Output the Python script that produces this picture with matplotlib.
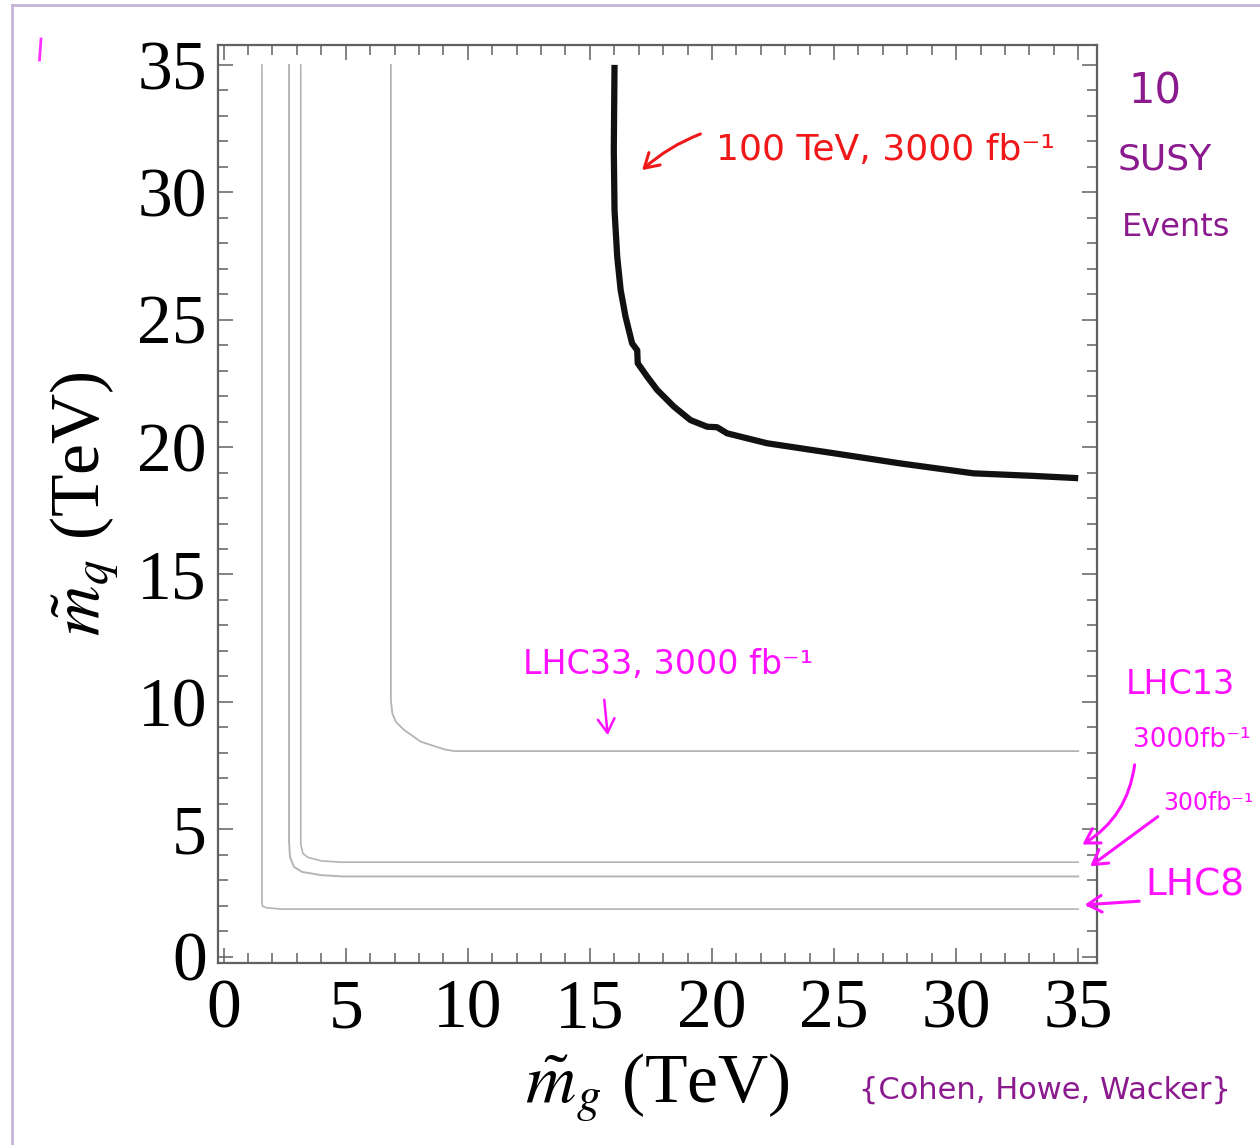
import matplotlib
matplotlib.use("Agg")
import matplotlib.pyplot as plt
from matplotlib.ticker import MultipleLocator
from matplotlib.lines import Line2D
from matplotlib.patches import FancyArrowPatch

# ---------------- data (TeV) ----------------
lhc8_x = [1.57, 1.57, 1.60, 1.75, 2.35, 35.0]
lhc8_y = [35.0, 2.10, 1.98, 1.92, 1.87, 1.87]

lhc13_300_x = [2.68, 2.68, 2.72, 2.88, 3.20, 4.00, 4.90, 35.0]
lhc13_300_y = [35.0, 4.50, 3.90, 3.53, 3.33, 3.20, 3.15, 3.15]

lhc13_3000_x = [3.16, 3.16, 3.25, 3.45, 4.00, 4.80, 35.0]
lhc13_3000_y = [35.0, 4.40, 4.05, 3.90, 3.76, 3.71, 3.71]

lhc33_x = [6.85, 6.85, 6.91, 7.05, 7.39, 8.07, 9.03, 9.44, 35.0]
lhc33_y = [35.0, 10.07, 9.55, 9.22, 8.90, 8.44, 8.14, 8.07, 8.07]

vlhc_x = [16.01, 15.98, 16.01, 16.12, 16.26, 16.46, 16.73, 16.94, 16.96, 17.35,
          17.76, 18.44, 19.12, 19.80, 20.21, 20.62, 22.26, 24.98, 27.71, 30.71,
          33.16, 35.0]
vlhc_y = [35.0, 31.66, 29.30, 27.47, 26.17, 25.12, 24.07, 23.80, 23.29, 22.76,
          22.24, 21.59, 21.06, 20.80, 20.78, 20.54, 20.15, 19.76, 19.36, 18.97,
          18.87, 18.78]

major_ticks = [0, 5, 10, 15, 20, 25, 30, 35]
tick_labels = ["0", "5", "10", "15", "20", "25", "30", "35"]

# ---------------- figure ----------------
W, H = 1260, 1145
plt.rcParams['mathtext.fontset'] = 'stix'
fig = plt.figure(figsize=(W / 100, H / 100), dpi=100)
fig.patch.set_facecolor('white')

ax = fig.add_axes([218 / W, 1 - 962.7 / H, (1097 - 218) / W, (962.7 - 45) / H])
ax.set_xlim(-0.23, 35.77)
ax.set_ylim(-0.235, 35.78)

gray = '#b4b4b4'
ax.plot(lhc8_x, lhc8_y, color=gray, lw=1.2)
ax.plot(lhc13_300_x, lhc13_300_y, color=gray, lw=1.4)
ax.plot(lhc13_3000_x, lhc13_3000_y, color=gray, lw=1.2)
ax.plot(lhc33_x, lhc33_y, color=gray, lw=1.3)
ax.plot(vlhc_x, vlhc_y, color='#111111', lw=4.5, solid_capstyle='butt',
        solid_joinstyle='round')

ax.set_xticks(major_ticks)
ax.set_yticks(major_ticks)
ax.set_xticklabels(tick_labels)
ax.set_yticklabels(tick_labels)
ax.xaxis.set_minor_locator(MultipleLocator(1))
ax.yaxis.set_minor_locator(MultipleLocator(1))
frame_c = '#606060'
for s in ax.spines.values():
    s.set_color(frame_c)
    s.set_linewidth(1.6)
ax.tick_params(which='both', direction='in', top=True, right=True,
               color=frame_c, width=1.1)
ax.tick_params(which='major', length=11)
ax.tick_params(which='minor', length=7)
ax.tick_params(axis='x', which='major', pad=12)
ax.tick_params(axis='y', which='major', pad=8)
for lab in ax.get_xticklabels() + ax.get_yticklabels():
    lab.set_fontfamily('Liberation Serif')
    lab.set_fontsize(50)

ax.set_xlabel(r'$\tilde{m}_g$ (TeV)', fontfamily='Liberation Serif', fontsize=50, labelpad=6)
ax.set_ylabel(r'$\tilde{m}_q$ (TeV)', fontfamily='Liberation Serif', fontsize=50, labelpad=12)

# ---------------- page border & marks ----------------
border = '#c6b4d8'
fig.add_artist(Line2D([12 / W, 12 / W], [0, 1 - 5 / H], transform=fig.transFigure,
                      color=border, lw=2))
fig.add_artist(Line2D([12 / W, 1], [1 - 5 / H, 1 - 5 / H], transform=fig.transFigure,
                      color=border, lw=2))
fig.add_artist(Line2D([41 / W, 39.5 / W], [1 - 39 / H, 1 - 60 / H], transform=fig.transFigure,
                      color='#ff30ff', lw=2))

# ---------------- handwritten annotations ----------------
red = '#f01818'
mag = '#ff10ff'
pur = '#8a1a8e'
hand = ['DejaVu Sans']


def ftext(x, y, s, color, size, **kw):
    fig.text(x / W, 1 - y / H, s, color=color, fontsize=size, family=hand,
             ha='center', va='center', **kw)


def farrow(x0, y0, x1, y1, color, rad=0.0, lw=2.2):
    fig.add_artist(FancyArrowPatch((x0 / W, 1 - y0 / H), (x1 / W, 1 - y1 / H),
                                   transform=fig.transFigure, color=color, lw=lw,
                                   arrowstyle='->,head_length=10,head_width=6',
                                   connectionstyle=f'arc3,rad={rad}'))


ftext(885, 150, '100 TeV, 3000 fb\u207b\u00b9', red, 26)
farrow(703, 133, 640, 172, red, rad=0.1)

ftext(668, 665, 'LHC33, 3000 fb\u207b\u00b9', mag, 24)
farrow(604, 697, 608, 738, mag, rad=0.0, lw=1.8)

ftext(1155, 92, '10', pur, 30)
ftext(1165, 160, 'SUSY', pur, 26)
ftext(1176, 228, 'Events', pur, 23)

ftext(1180, 685, 'LHC13', mag, 24)
ftext(1192, 740, '3000fb\u207b\u00b9', mag, 19)
ftext(1208, 803, '300fb\u207b\u00b9', mag, 17)
ftext(1195, 885, 'LHC8', mag, 27)
farrow(1135, 762, 1080, 846, mag, rad=-0.25)
farrow(1160, 815, 1088, 868, mag, rad=0.0)
farrow(1142, 901, 1082, 905, mag, rad=0.0)

ftext(1045, 1090, '{Cohen, Howe, Wacker}', pur, 22)

fig.savefig('out.png', dpi=100, facecolor='white')
